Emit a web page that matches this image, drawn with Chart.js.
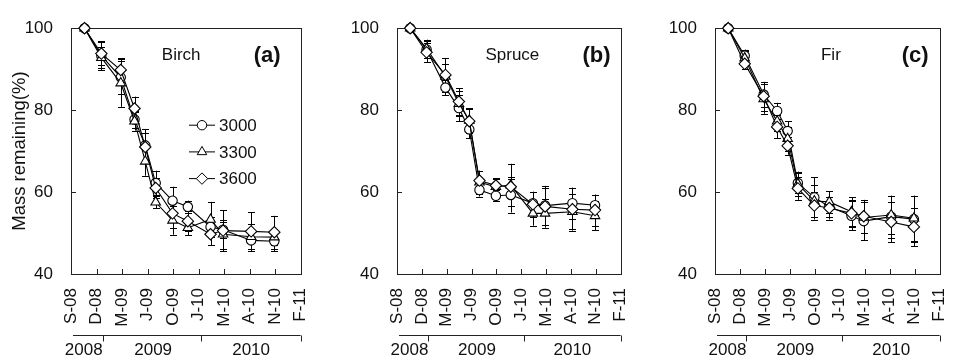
<!DOCTYPE html>
<html><head><meta charset="utf-8">
<script src="https://cdn.jsdelivr.net/npm/chart.js@4.4.1/dist/chart.umd.min.js"></script>
<style>
html,body{margin:0;padding:0;background:#fff;}
#wrap{position:relative;width:974px;height:362px;overflow:hidden;background:#fff;}
canvas{position:absolute;top:0;}
</style></head><body>
<div id="wrap">
<canvas id="cA" width="335" height="362" style="left:0px"></canvas>
<canvas id="cB" width="320" height="362" style="left:335px"></canvas>
<canvas id="cC" width="319" height="362" style="left:655px"></canvas>
</div>
<script>
// ---- data ----
const tickLabels = ['S-08','D-08','M-09','J-09','O-09','J-10','M-10','A-10','N-10','F-11'];
const sampleDays = [53, 119, 195, 249, 291, 332, 398, 458, 547, 596, 706, 797]; // days from axis origin
const seriesNames = ['3000', '3300', '3600'];
const yearLabels = ['2008', '2009', '2010'];
const yearLabelDays = [50, 322, 706];
const yearBoundaryDays = [125, 510];

const birch3000 = [100, 93.3, 88.0, 77.7, 71.4, 62.2, 57.9, 56.4, 51.5, 50.8, 48.2, 48.0];
const birch3300 = [100, 92.8, 86.6, 77.3, 67.5, 57.5, 53.1, 51.3, 53.3, 49.7, 49.1, 49.0];
const birch3600 = [100, 93.8, 89.8, 80.4, 71.0, 61.0, 54.8, 52.9, 49.7, 50.6, 50.4, 50.2];
const birchErr3000 = [0, 3.5, 4.0, 2.0, 4.0, 3.0, 3.4, 1.5, 2.5, 2.0, 2.6, 2.5];
const birchErr3300 = [0, 2.5, 5.8, 2.3, 3.5, 1.5, 3.5, 1.8, 4.3, 3.5, 3.0, 2.0];
const birchErr3600 = [0, 2.8, 2.9, 2.9, 3.4, 2.5, 3.5, 2.5, 2.7, 5.0, 4.7, 4.0];

const spruce3000 = [100, 94.8, 85.5, 80.5, 75.3, 60.5, 59.1, 59.3, 57.3, 56.7, 57.3, 56.8];
const spruce3300 = [100, 95.0, 88.2, 81.6, 77.5, 62.4, 61.3, 61.7, 54.8, 54.8, 55.2, 54.2];
const spruce3600 = [100, 94.1, 88.6, 82.1, 77.3, 62.8, 61.6, 61.3, 57.0, 56.5, 55.8, 55.6];
const spruceErr3000 = [0, 2.0, 1.8, 3.2, 2.2, 1.6, 1.4, 4.3, 2.8, 4.8, 3.8, 2.5];
const spruceErr3300 = [0, 2.2, 3.0, 3.0, 3.0, 2.8, 2.0, 5.2, 3.0, 3.5, 4.3, 3.5];
const spruceErr3600 = [0, 2.4, 4.1, 3.3, 3.0, 2.4, 1.8, 1.8, 3.0, 4.5, 5.2, 3.8];

const fir3000 = [100, 93.3, 83.8, 79.8, 74.9, 62.2, 58.7, 56.4, 54.2, 52.9, 54.0, 53.4];
const fir3300 = [100, 92.7, 82.7, 77.3, 73.0, 62.0, 57.8, 57.6, 55.2, 53.8, 54.4, 53.6];
const fir3600 = [100, 91.3, 83.4, 75.9, 71.3, 60.9, 56.7, 56.1, 54.8, 54.1, 52.7, 51.5];
const firErr3000 = [0, 1.5, 3.0, 2.0, 2.4, 2.5, 4.9, 2.5, 3.5, 4.7, 5.1, 5.7];
const firErr3300 = [0, 1.8, 3.6, 2.5, 3.0, 3.0, 4.0, 2.6, 3.5, 3.8, 4.7, 5.5];
const firErr3600 = [0, 1.3, 3.5, 2.8, 2.2, 2.8, 3.4, 2.8, 3.3, 4.0, 4.9, 4.7];

// ---- style ----
const FONT = "'Liberation Sans', Arial, Helvetica, sans-serif";
const INK = '#111';
const pointStyles = ['circle', 'triangle', 'rectRot'];
const pointRadii = [4.7, 5.5, 5.7];

const decor = {
  id: 'decor',
  beforeDatasetsDraw(chart, args, o) {
    const ctx = chart.ctx, ys = chart.scales.y, xs = chart.scales.x;
    const a = chart.chartArea;
    ctx.save();
    // frame
    ctx.strokeStyle = '#222'; ctx.lineWidth = 1;
    ctx.strokeRect(Math.round(a.left) + 0.5, Math.round(a.top) + 0.5, Math.round(a.right - a.left), Math.round(a.bottom - a.top));
    // inward ticks
    ctx.beginPath();
    xs.ticks.forEach(t => { const x = Math.round(xs.getPixelForValue(t.value)) + 0.5; ctx.moveTo(x, a.bottom); ctx.lineTo(x, a.bottom - 5); });
    ys.ticks.forEach(t => { const y = Math.round(ys.getPixelForValue(t.value)) + 0.5; ctx.moveTo(a.left, y); ctx.lineTo(a.left + 5, y); });
    ctx.stroke();
    // error bars
    ctx.strokeStyle = '#000'; ctx.lineWidth = 1;
    chart.data.datasets.forEach((ds, di) => {
      const meta = chart.getDatasetMeta(di);
      ds.data.forEach((p, i) => {
        const e = ds.errors[i]; if (!e) return;
        const x = Math.round(meta.data[i].x) + 0.5;
        const y1 = ys.getPixelForValue(p.y + e), y2 = ys.getPixelForValue(p.y - e);
        ctx.beginPath();
        ctx.moveTo(x, y1); ctx.lineTo(x, y2);
        ctx.moveTo(x - 3.5, Math.round(y1) + 0.5); ctx.lineTo(x + 3.5, Math.round(y1) + 0.5);
        ctx.moveTo(x - 3.5, Math.round(y2) + 0.5); ctx.lineTo(x + 3.5, Math.round(y2) + 0.5);
        ctx.stroke();
      });
    });
    ctx.restore();
  },
  afterDatasetsDraw(chart, args, o) {
    const ctx = chart.ctx, xs = chart.scales.x;
    const a = chart.chartArea;
    ctx.save();
    ctx.fillStyle = INK;
    ctx.textBaseline = 'middle';
    // species name
    ctx.font = '17px ' + FONT; ctx.textAlign = 'center';
    ctx.fillText(o.name, a.left + (a.right - a.left) * o.nameFrac, a.top + 27);
    // panel letter
    ctx.font = 'bold 22px ' + FONT; ctx.textAlign = 'right';
    ctx.fillText(o.letter, a.right - o.letterGap, a.top + 28);
    // legend
    if (o.legend) {
      ctx.font = '17px ' + FONT; ctx.textAlign = 'left';
      seriesNames.forEach((n, i) => {
        const y = a.top + 97 + i * 26.7;
        const x0 = a.left + 118, x1 = a.left + 144;
        ctx.strokeStyle = '#000'; ctx.lineWidth = 1;
        ctx.beginPath(); ctx.moveTo(x0, y); ctx.lineTo(x1, y); ctx.stroke();
        ctx.fillStyle = '#fff';
        Chart.helpers.drawPoint(ctx, {pointStyle: pointStyles[i], radius: pointRadii[i], borderWidth: 1, rotation: 0}, (x0 + x1) / 2, y);
        ctx.fillStyle = INK;
        ctx.fillText(n, x1 + 4, y + 1);
      });
    }
    // year row
    const ya = a.bottom + 61.5;
    ctx.strokeStyle = '#222'; ctx.lineWidth = 1;
    ctx.beginPath();
    ctx.moveTo(a.left + 2, ya); ctx.lineTo(a.right, ya);
    yearBoundaryDays.concat([xs.max]).forEach(d => {
      const x = Math.round(xs.getPixelForValue(d)) + 0.5;
      ctx.moveTo(x, ya); ctx.lineTo(x, ya + 6);
    });
    ctx.stroke();
    ctx.font = '17px ' + FONT; ctx.textAlign = 'center';
    yearLabels.forEach((t, i) => ctx.fillText(t, xs.getPixelForValue(yearLabelDays[i]), ya + 15));
    ctx.restore();
  }
};

function makePanel(id, vals, errs, cfg) {
  const datasets = vals.map((v, k) => ({
    label: seriesNames[k],
    data: sampleDays.map((d, i) => ({x: d, y: v[i]})),
    errors: errs[k],
    borderColor: '#000', borderWidth: 1.1,
    pointStyle: pointStyles[k], pointRadius: pointRadii[k],
    pointBackgroundColor: '#fff', pointBorderColor: '#000', pointBorderWidth: 1.1,
    tension: 0, clip: false, order: 2 - k
  }));
  return new Chart(document.getElementById(id), {
    type: 'line',
    data: {datasets},
    options: {
      responsive: false, animation: false, devicePixelRatio: 1,
      layout: {padding: {top: 18, right: cfg.padRight, left: 0, bottom: 0}, autoPadding: false},
      plugins: {legend: {display: false}, tooltip: {enabled: false}, decor: cfg.decor},
      scales: {
        x: {
          type: 'linear', min: 0, max: 900,
          grid: {display: false, drawTicks: false}, border: {display: false},
          ticks: {stepSize: 100, autoSkip: false, minRotation: 90, maxRotation: 90, padding: 14,
                  color: INK, font: {family: FONT, size: 17},
                  callback: (v, i) => tickLabels[i]},
          afterFit(s) { s.height = 88; }
        },
        y: {
          min: 40, max: 100,
          grid: {display: false, drawTicks: false}, border: {display: false},
          ticks: {stepSize: 20, padding: 18, color: INK, font: {family: FONT, size: 17}},
          title: {display: !!cfg.yTitle, text: cfg.yTitle || '', color: INK,
                  font: {family: FONT, size: 18.5}, padding: {top: 9, bottom: 0}},
          afterFit(s) { s.width = cfg.yWidth; }
        }
      }
    },
    plugins: [decor]
  });
}

makePanel('cA', [birch3000, birch3300, birch3600], [birchErr3000, birchErr3300, birchErr3600],
  {padRight: 9, yWidth: 71, yTitle: 'Mass remaining(%)',
   decor: {name: 'Birch', nameFrac: 0.48, letter: '(a)', letterGap: 20, legend: true}});
makePanel('cB', [spruce3000, spruce3300, spruce3600], [spruceErr3000, spruceErr3300, spruceErr3600],
  {padRight: 10, yWidth: 62,
   decor: {name: 'Spruce', nameFrac: 0.516, letter: '(b)', letterGap: 10, legend: false}});
makePanel('cC', [fir3000, fir3300, fir3600], [firErr3000, firErr3300, firErr3600],
  {padRight: 12, yWidth: 60,
   decor: {name: 'Fir', nameFrac: 0.516, letter: '(c)', letterGap: 11, legend: false}});
</script>
</body></html>
